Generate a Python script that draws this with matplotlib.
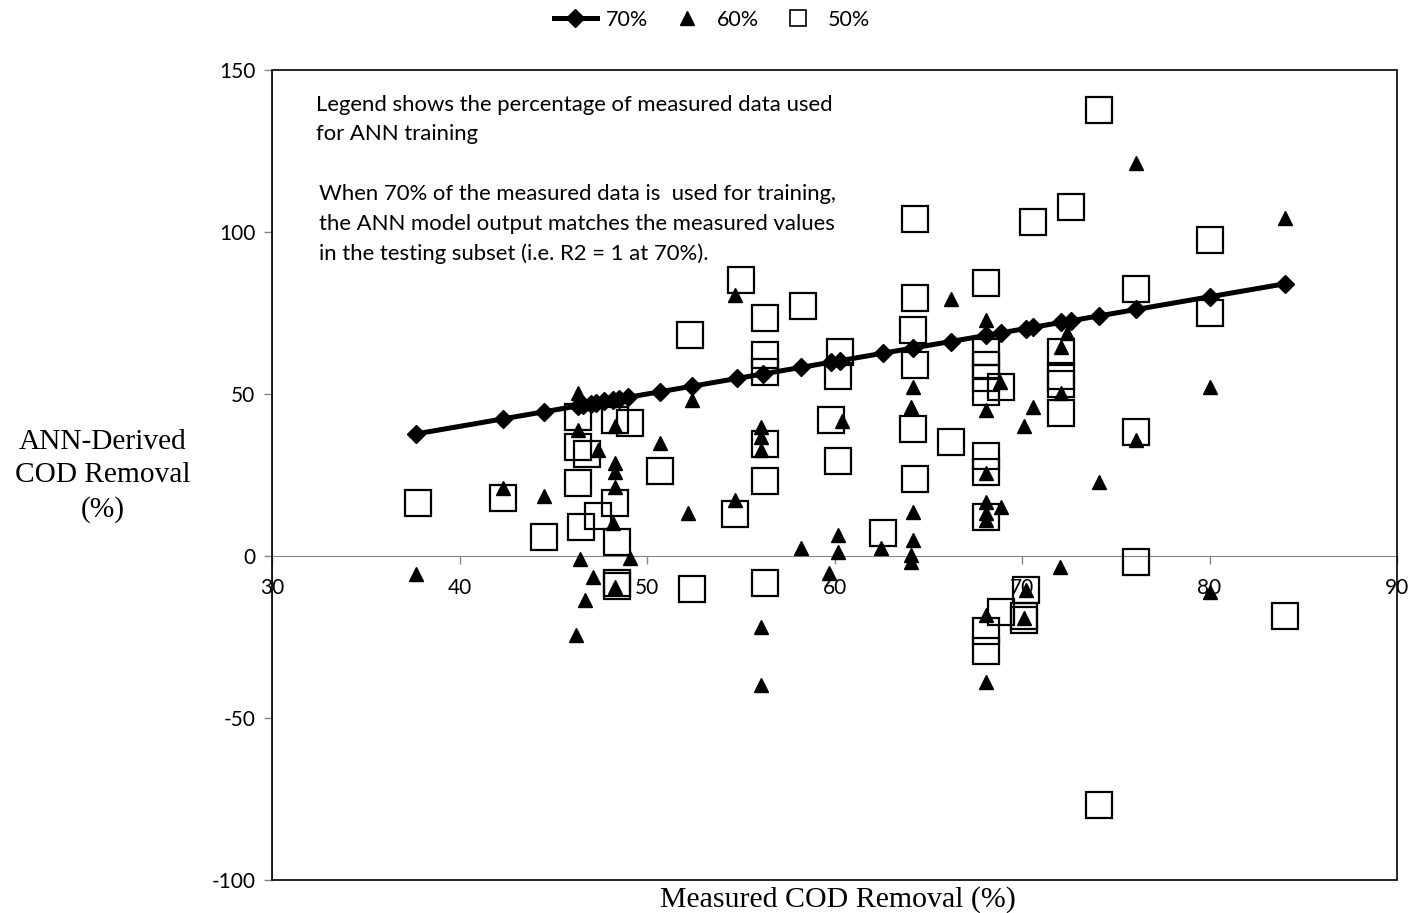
import matplotlib
matplotlib.use("Agg")
import matplotlib.pyplot as plt
from matplotlib.lines import Line2D
from matplotlib.patches import Rectangle

plt.rcParams["axes.unicode_minus"] = False

# Measured COD removal (%) in the testing subset when 70% of data trains the ANN;
# the ANN output equals the measured value at every point.
x70 = [37.7, 42.3, 44.5, 46.3, 46.6, 47.0, 47.3, 47.7, 48.2, 48.5, 49.0, 50.7,
       52.4, 54.8, 56.2, 58.2, 59.8, 60.3, 62.6, 64.2, 66.2, 68.1, 68.9, 70.2,
       70.6, 72.1, 72.6, 74.1, 76.1, 80.0, 84.0]
y70 = list(x70)

# 60% training
x60 = [37.7, 42.3, 44.5, 46.3, 46.3, 46.4, 46.2, 46.7, 47.1, 47.4, 48.3, 48.3,
       48.3, 48.3, 48.2, 48.3, 49.1, 50.7, 52.2, 52.4,
       54.7, 54.7, 56.1, 56.1, 56.1, 56.1, 56.1, 58.2, 59.7, 60.2, 60.2, 60.4,
       62.5, 64.2, 64.1, 64.2, 64.2, 64.1, 64.1, 66.2,
       68.1, 68.1, 68.8, 70.6, 70.1, 72.1, 72.4, 72.1, 68.1, 68.1, 68.1, 68.1,
       68.9, 74.1, 76.1, 72.0, 70.2, 70.1, 68.1, 68.1,
       76.1, 84.0, 80.0, 80.0]
y60 = [-5.6, 21.0, 18.5, 50.3, 39.0, -1.0, -24.4, -13.6, -6.4, 32.7, 40.0, 28.7,
       26.0, 21.3, 10.2, -9.6, -0.6, 35.0, 13.3, 48.0,
       80.5, 17.2, 39.8, 36.7, 32.7, -21.9, -39.8, 2.5, -5.2, 6.5, 1.2, 41.7,
       2.5, 52.2, 46.0, 13.6, 5.0, 0.3, -1.9, 79.3,
       72.8, 45.0, 53.7, 46.0, 40.1, 64.5, 68.8, 50.3, 25.6, 16.7, 13.3, 11.1,
       15.1, 22.8, 35.8, -3.4, -10.5, -19.1, -18.2, -38.9,
       121.3, 104.3, 52.2, -11.0]

# 50% training
x50 = [37.8, 42.3, 44.5, 46.3, 46.3, 46.8, 46.3, 46.5, 47.4, 48.3, 48.3, 48.4,
       48.4, 48.4, 49.1, 50.7, 52.3, 52.4,
       55.0, 56.3, 58.3, 56.3, 56.3, 60.3, 60.2, 59.8, 56.3, 60.2, 56.3, 54.7,
       56.3, 62.6, 64.3, 64.3, 64.2, 64.3, 64.2, 64.3, 66.2,
       68.1, 76.1, 68.1, 68.1, 68.1, 68.1, 68.9, 72.1, 72.1, 72.1, 72.1, 68.1,
       68.1, 68.1, 76.1, 76.1, 70.2, 70.1, 70.1, 68.9, 68.1, 68.1,
       74.1, 72.6, 70.6, 80.0, 80.0, 84.0, 74.1]
y50 = [16.4, 17.9, 6.0, 43.0, 33.6, 31.5, 22.5, 9.0, 12.3, 42.0, 16.4, 4.3,
       -8.3, -9.2, 41.0, 26.2, 68.2, -10.2,
       85.2, 73.5, 77.2, 62.1, 56.8, 63.0, 55.6, 42.0, 34.6, 29.3, 23.1, 13.0,
       -8.3, 7.1, 104.0, 79.6, 69.8, 59.0, 39.2, 23.8, 35.2,
       84.3, 82.4, 63.0, 59.0, 55.0, 50.6, 52.1, 63.0, 55.5, 53.0, 44.1, 30.9,
       26.0, 12.0, 38.3, -1.9, -10.5, -18.5, -19.8, -17.3, -23.2, -29.3,
       137.7, 107.7, 103.0, 97.5, 75.0, -18.5, -76.9]

series_labels = ["70%", "60%", "50%"]
x_ticks = [30, 40, 50, 60, 70, 80, 90]
y_ticks = [-100, -50, 0, 50, 100, 150]

note_1 = "Legend shows the percentage of measured data used\nfor ANN training"
note_2 = ("When 70% of the measured data is  used for training,\n"
          "the ANN model output matches the measured values\n"
          "in the testing subset (i.e. R2 = 1 at 70%).")

sans = "Lato"
serif = "Liberation Serif"
grey = "#868686"

fig = plt.figure(figsize=(14.13, 9.13), dpi=100)
ax = fig.add_axes([272 / 1413, 1 - 880 / 913, (1397 - 272) / 1413, (880 - 70) / 913])

ax.plot(x50, y50, linestyle="none", marker="s", markersize=18.5,
        markerfacecolor="none", markeredgecolor="black", markeredgewidth=1.6, zorder=3)
ax.plot(x60, y60, linestyle="none", marker="^", markersize=10,
        color="black", zorder=4)
ax.plot(x70, y70, color="black", linewidth=3.6, marker="D", markersize=9.5,
        zorder=5)

ax.set_xlim(30, 90)
ax.set_ylim(-100, 150)
ax.set_xticks(x_ticks)
ax.set_yticks(y_ticks)

# horizontal axis crosses at zero; outer frame drawn separately
ax.spines["bottom"].set_position(("data", 0))
ax.spines["bottom"].set_color(grey)
ax.spines["left"].set_color(grey)
ax.spines["top"].set_visible(False)
ax.spines["right"].set_visible(False)
ax.add_patch(Rectangle((0, 0), 1, 1, transform=ax.transAxes, fill=False,
                       edgecolor="black", linewidth=1.2, zorder=6, clip_on=False))

ax.tick_params(axis="both", direction="out", length=6, color=grey, width=1)
ax.tick_params(axis="x", pad=10)
ax.tick_params(axis="y", pad=6)
for lab in ax.get_xticklabels() + ax.get_yticklabels():
    lab.set_fontfamily(sans)
    lab.set_fontsize(15)

ax.set_xlabel("Measured COD Removal (%)", fontfamily=serif, fontsize=21.5)
ax.xaxis.set_label_coords(0.503, -(900 - 880) / 810)
ax.xaxis.label.set_verticalalignment("center")

fig.text(103 / 1413, 1 - 476 / 913, "ANN-Derived\nCOD Removal\n(%)",
         fontfamily=serif, fontsize=21.2, ha="center", va="center", linespacing=1.36)

ax.text(0.0391, 1 - (95 - 70) / 810, note_1, transform=ax.transAxes,
        fontfamily=sans, fontsize=15.9, ha="left", va="top", linespacing=1.55)
ax.text(0.0418, 1 - (184 - 70) / 810, note_2, transform=ax.transAxes,
        fontfamily=sans, fontsize=15.9, ha="left", va="top", linespacing=1.6)

handles = [
    Line2D([], [], color="black", linewidth=3.6, marker="D", markersize=9.5),
    Line2D([], [], color="black", linestyle="none", marker="^", markersize=10),
    Line2D([], [], color="black", linestyle="none", marker="s", markersize=12,
           markerfacecolor="none", markeredgewidth=1.2),
]
fig.legend(handles, series_labels, loc="center", bbox_to_anchor=(712 / 1413, 1 - 20 / 913),
           ncol=3, frameon=False, prop={"family": sans, "size": 15.5},
           handlelength=2.0, handletextpad=0.4, columnspacing=0.8)

fig.savefig("out.png", dpi=100)
